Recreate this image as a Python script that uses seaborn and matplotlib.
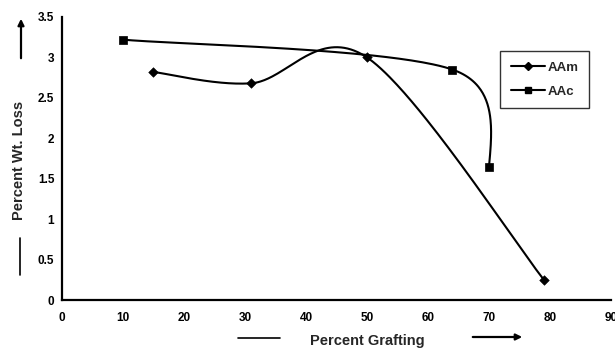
import numpy as np
import pandas as pd
import matplotlib
matplotlib.use("Agg")
import matplotlib.pyplot as plt
from matplotlib.lines import Line2D
import seaborn as sns

# Data
aam_x = [15, 31, 50, 79]
aam_y = [2.82, 2.68, 3.00, 0.25]
aac_x = [10, 64, 70]
aac_y = [3.22, 2.85, 1.65]
x_ticks = [0, 10, 20, 30, 40, 50, 60, 70, 80, 90]
y_ticks = [0, 0.5, 1, 1.5, 2, 2.5, 3, 3.5]
y_tick_labels = ["0", "0.5", "1", "1.5", "2", "2.5", "3", "3.5"]

# approximate pixel scale of axes (for smoothing in display-like space)
SX, SY = 6.1, 80.9


def smooth(xs, ys, max_ratio=None, natural_end=False, n=80):
    """Excel-like smoothed line: cubic Bezier segments with Catmull-Rom control points,
    optionally limiting control offsets to a fraction of the segment length."""
    p = np.column_stack([np.asarray(xs, float) * SX, np.asarray(ys, float) * SY])
    out = []
    m = len(p)
    for i in range(m - 1):
        p0 = p[i - 1] if i > 0 else p[i]
        p1 = p[i]
        p2 = p[i + 1]
        p3 = p[i + 2] if i + 2 < m else p[i + 1]
        o1 = (p2 - p0) / 6.0
        o2 = (p3 - p1) / 6.0
        if max_ratio is not None:
            seg = np.linalg.norm(p2 - p1)
            for o in (o1, o2):
                L = np.linalg.norm(o)
                if L > max_ratio * seg:
                    o *= max_ratio * seg / L
        c1 = p1 + o1
        c2 = p2 - o2
        if natural_end and i + 2 >= m and i > 0:
            c2 = (p2 + c1) / 2.0
        t = np.linspace(0, 1, n)[:, None]
        s = ((1 - t) ** 3) * p1 + 3 * ((1 - t) ** 2) * t * c1 + 3 * (1 - t) * t ** 2 * c2 + t ** 3 * p2
        out.append(s if i == 0 else s[1:])
    s = np.vstack(out)
    return s[:, 0] / SX, s[:, 1] / SY


sns.set_style("white")
plt.rcParams['font.family'] = ['Liberation Sans', 'DejaVu Sans']

fig = plt.figure(figsize=(6.15, 3.49), dpi=100)
ax = fig.add_axes([0.1008, 0.1404, 0.8927, 0.8109])

sx, sy = smooth(aam_x, aam_y)
df_aam = pd.DataFrame({"x": sx, "y": sy})
sx2, sy2 = smooth(aac_x, aac_y, max_ratio=0.45, natural_end=True)
df_aac = pd.DataFrame({"x": sx2, "y": sy2})

sns.lineplot(data=df_aam, x="x", y="y", sort=False, color="black", lw=1.5, ax=ax, estimator=None)
sns.lineplot(data=df_aac, x="x", y="y", sort=False, color="black", lw=1.5, ax=ax, estimator=None)
sns.scatterplot(x=aam_x, y=aam_y, marker="D", s=24, color="black", edgecolor="black", ax=ax, zorder=5)
sns.scatterplot(x=aac_x, y=aac_y, marker="s", s=40, color="black", edgecolor="black", ax=ax, zorder=5)

ax.set_xlim(0, 90)
ax.set_ylim(0, 3.5)
ax.set_xticks(x_ticks)
ax.set_yticks(y_ticks)
ax.set_yticklabels(y_tick_labels)
ax.tick_params(axis="both", direction="inout", length=5, width=1.2, color="black",
               labelsize=8.5, labelcolor="black")
for lab in ax.get_xticklabels() + ax.get_yticklabels():
    lab.set_fontweight("bold")
ax.tick_params(axis="x", pad=6)
ax.tick_params(axis="y", pad=3)
for side in ["top", "right"]:
    ax.spines[side].set_visible(False)
for side in ["left", "bottom"]:
    ax.spines[side].set_color("black")
    ax.spines[side].set_linewidth(1.6)
ax.set_xlabel("")
ax.set_ylabel("")

# Axis titles with their arrows
fig.text(367 / 615, 1 - 341 / 349, "Percent Grafting", ha="center", va="center",
         fontsize=10.5, fontweight="bold")
fig.text(19 / 615, 1 - 160 / 349, "Percent Wt. Loss", ha="center", va="center",
         rotation=90, fontsize=10.5, fontweight="bold")
# x arrow decorations
fig.add_artist(Line2D([238 / 615, 280 / 615], [1 - 338 / 349] * 2, color="black", lw=1.2))
ax.annotate("", xy=(525 / 615, 1 - 337 / 349), xytext=(470 / 615, 1 - 337 / 349),
            xycoords="figure fraction",
            arrowprops=dict(arrowstyle="-|>", color="black", lw=1.6, mutation_scale=9))
# y arrow decorations
fig.add_artist(Line2D([20 / 615] * 2, [1 - 238 / 349, 1 - 275 / 349], color="black", lw=1.2))
ax.annotate("", xy=(21 / 615, 1 - 16 / 349), xytext=(21 / 615, 1 - 61 / 349),
            xycoords="figure fraction",
            arrowprops=dict(arrowstyle="-|>", color="black", lw=1.6, mutation_scale=9))

handles = [
    Line2D([0], [0], color="black", lw=1.5, marker="D", markersize=4),
    Line2D([0], [0], color="black", lw=1.5, marker="s", markersize=5),
]
leg = ax.legend(handles, ["AAm", "AAc"], loc="upper left",
                bbox_to_anchor=(500 / 615, 1 - 51 / 349), bbox_transform=fig.transFigure,
                frameon=True, fancybox=False, edgecolor="black", handlelength=2.6,
                handletextpad=0.2, labelspacing=0.9, borderpad=0.8, borderaxespad=0,
                prop={"size": 9.5, "weight": "bold"})
leg.get_frame().set_linewidth(1.0)

fig.savefig("out.png", dpi=100)
